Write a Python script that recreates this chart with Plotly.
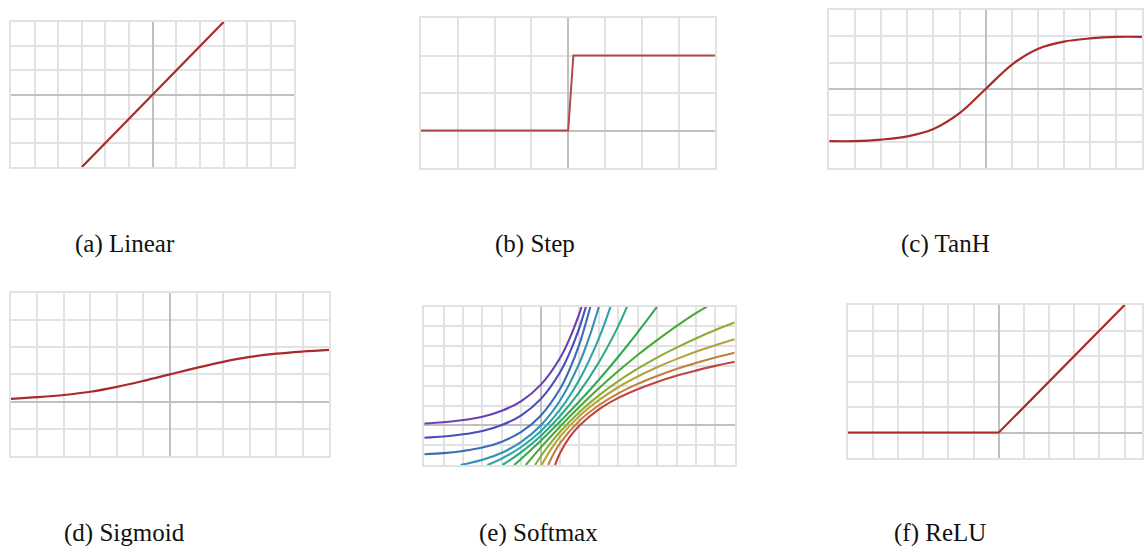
import plotly.graph_objects as go

W, H = 1144, 546

# ---- data -------------------------------------------------------------
linear_x = [-3, 3]
linear_y = [-3, 3]

step_x = [-4, 0, 0.14, 4]
step_y = [0, 0, 1, 1]

tanh_x = [-3, -2.5, -2, -1.5, -1, -0.5, 0, 0.5, 1, 1.5, 2, 2.5, 3]
tanh_y = [-0.99, -0.99, -0.96, -0.9, -0.76, -0.46, 0, 0.46, 0.76, 0.9, 0.96, 0.99, 0.99]

sigmoid_x = [-3, -2.5, -2, -1.5, -1, -0.5, 0, 0.5, 1, 1.5, 2, 2.5, 3]
sigmoid_y = [0.05, 0.08, 0.12, 0.18, 0.27, 0.38, 0.5, 0.62, 0.73, 0.82, 0.88, 0.92, 0.95]

relu_x = [-6, 0, 5]
relu_y = [0, 0, 5]

softmax_x = [
    [-6, -5, -4, -3, -2, -1, 0, 1, 1.5, 2, 2.11],
    [-6, -5, -4, -3, -2, -1, 0, 1, 1.5, 2, 2.33],
    [-6, -5, -4, -3, -2, -1, 0, 1, 1.5, 2, 2.56],
    [-4.12, -3, -2, -1, 0, 1, 2, 2.5, 3],
    [-2.75, -2, -1, 0, 1, 2, 3, 3.6],
    [-1.97, -1, 0, 1, 2, 3, 4, 4.45],
    [-1.37, -1, 0, 1, 2, 3, 4, 5, 6],
    [-0.77, 0, 1, 2, 3, 4, 5, 6, 7, 8, 8.57],
    [-0.29, 0, 0.5, 1, 2, 3, 4, 5, 6, 7, 8, 9, 10],
    [0.05, 0.5, 1, 2, 3, 4, 5, 6, 7, 8, 9, 10],
    [0.39, 0.5, 1, 2, 3, 4, 5, 6, 7, 8, 9, 10],
    [0.74, 1, 1.5, 2, 3, 4, 5, 6, 7, 8, 9, 10],
]
softmax_y = [
    [0.10, 0.16, 0.27, 0.44, 0.74, 1.23, 2.05, 3.41, 4.41, 5.68, 6.0],
    [-0.62, -0.56, -0.45, -0.28, 0.02, 0.51, 1.33, 2.69, 3.69, 4.96, 6.0],
    [-1.46, -1.40, -1.29, -1.12, -0.82, -0.33, 0.49, 1.85, 2.85, 4.12, 6.0],
    [-2, -1.74, -1.38, -0.83, 0, 1.26, 3.16, 4.45, 6.0],
    [-2, -1.67, -1.09, -0.30, 0.80, 2.32, 4.40, 6.0],
    [-2, -1.35, -0.53, 0.48, 1.70, 3.19, 5.02, 6.0],
    [-2, -1.68, -0.77, 0.20, 1.22, 2.31, 3.47, 4.70, 6.0],
    [-2, -1.12, -0.05, 0.95, 1.88, 2.75, 3.56, 4.31, 5.02, 5.67, 6.0],
    [-2, -1.57, -0.91, -0.32, 0.68, 1.52, 2.24, 2.87, 3.43, 3.93, 4.39, 4.82, 5.20],
    [-2, -1.25, -0.57, 0.48, 1.28, 1.93, 2.47, 2.94, 3.35, 3.72, 4.05, 4.35],
    [-2, -1.76, -0.90, 0.24, 1.02, 1.62, 2.10, 2.50, 2.85, 3.15, 3.43, 3.67],
    [-2, -1.39, -0.58, 0, 0.81, 1.39, 1.83, 2.20, 2.51, 2.77, 3.01, 3.22],
]
softmax_colors = [
    "#6a40b4", "#4a4cbc", "#3c6cb8", "#3290b4", "#2ca6a8", "#2eaa80",
    "#34a854", "#4aa834", "#8cac32", "#b4a43a", "#c2803e", "#c04444",
]

captions = ["(a) Linear", "(b) Step", "(c) TanH", "(d) Sigmoid", "(e) Softmax", "(f) ReLU"]

# ---- panel layout (pixel boxes: left, right, top, bottom) --------------
panels = [
    dict(box=(11, 295, 22, 167), xr=[-6, 6], yr=[-3, 3], dx=1, dy=1),
    dict(box=(421.7, 716.7, 18, 168), xr=[-4, 4], yr=[-0.5, 1.5], dx=1, dy=0.5),
    dict(box=(830.7, 1144, 10, 168), xr=[-3, 3], yr=[-1.5, 1.5], dx=0.5, dy=0.5),
    dict(box=(10.7, 330, 292.7, 456), xr=[-3, 3], yr=[-1, 2], dx=0.5, dy=0.5),
    dict(box=(425, 736, 306.7, 465), xr=[-6, 10], yr=[-2, 6], dx=1, dy=1),
    dict(box=(849.3, 1144, 305, 458), xr=[-6, 5.69], yr=[-1, 5], dx=1, dy=1),
]
caption_pos = [(125, 244), (536, 244), (947, 244), (125, 533), (539, 533), (942, 533)]

GRID = "#e2e2e2"
AXIS = "#c0c0c0"
RED = "#a82a2a"

fig = go.Figure()
layout = dict(
    width=W, height=H, margin=dict(l=0, r=0, t=0, b=0),
    paper_bgcolor="white", plot_bgcolor="white", showlegend=False,
)

for i, p in enumerate(panels, start=1):
    l, r, t, b = p["box"]
    common = dict(showticklabels=False, ticks="", showline=True, mirror=True,
                  linecolor=GRID, linewidth=1.6, showgrid=True,
                  gridcolor=GRID, gridwidth=1.6, zeroline=True, zerolinecolor=AXIS,
                  zerolinewidth=2, fixedrange=True)
    layout[f"xaxis{i}"] = dict(domain=[l / W, min(r / W, 1)], range=p["xr"], dtick=p["dx"],
                               tick0=0, anchor=f"y{i}", **common)
    layout[f"yaxis{i}"] = dict(domain=[1 - b / H, 1 - t / H], range=p["yr"], dtick=p["dy"],
                               tick0=0, anchor=f"x{i}", **common)

def add(x, y, i, color, width=2.2, shape="linear"):
    fig.add_trace(go.Scatter(x=x, y=y, mode="lines", xaxis=f"x{i}", yaxis=f"y{i}",
                             line=dict(color=color, width=width, shape=shape),
                             hoverinfo="skip"))

add(linear_x, linear_y, 1, RED)
add(step_x, step_y, 2, "#b04a4a", 2.0)
add(tanh_x, tanh_y, 3, RED, shape="spline")
add(sigmoid_x, sigmoid_y, 4, RED, shape="spline")
for xs, ys, c in zip(softmax_x, softmax_y, softmax_colors):
    add(xs, ys, 5, c, 2.1, shape="spline")
add(relu_x, relu_y, 6, RED)

layout["annotations"] = [
    dict(text=txt, x=px / W, y=1 - py / H, xref="paper", yref="paper",
         xanchor="center", yanchor="middle", showarrow=False,
         font=dict(family="Liberation Serif", size=25, color="#111111"))
    for txt, (px, py) in zip(captions, caption_pos)
]

fig.update_layout(**layout)
fig.write_html("out.html")
